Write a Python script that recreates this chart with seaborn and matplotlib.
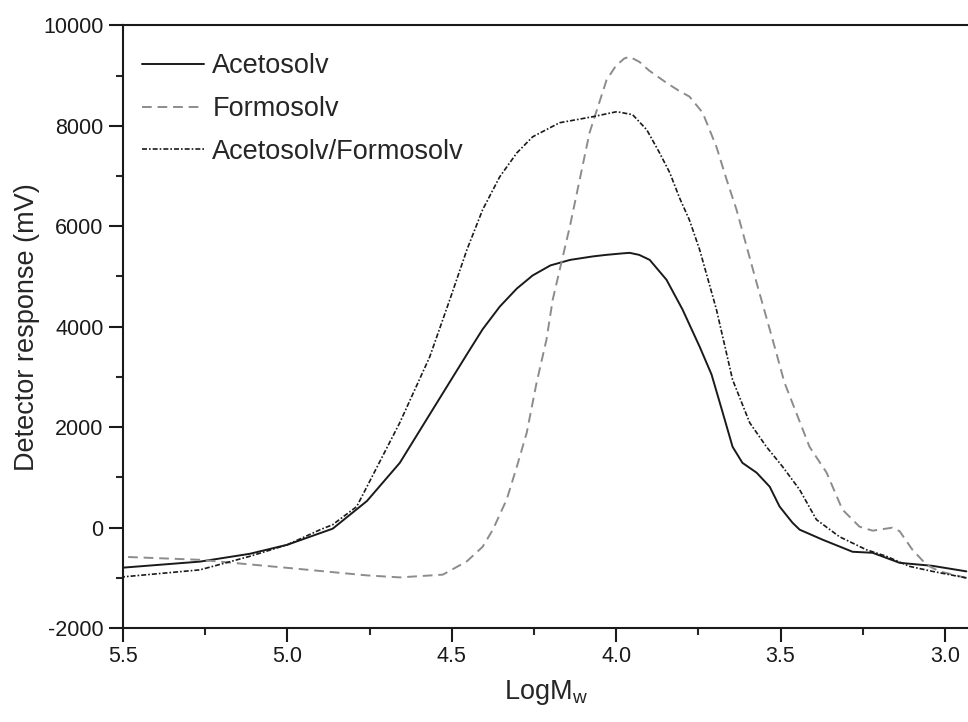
import matplotlib
matplotlib.use("Agg")
import matplotlib.pyplot as plt
import seaborn as sns
from matplotlib.ticker import MultipleLocator, FormatStrFormatter

# values (LogMw, detector response in mV)
aceto_x = [5.5, 5.266, 5.114, 5.0, 4.862, 4.758, 4.658, 4.558, 4.506, 4.454, 4.406,
           4.354, 4.302, 4.254, 4.20, 4.14, 4.07, 4.03, 3.98, 3.959, 3.93, 3.898,
           3.847, 3.798, 3.746, 3.71, 3.676, 3.646, 3.616, 3.573, 3.533, 3.503,
           3.464, 3.442, 3.372, 3.281, 3.220, 3.138, 3.038, 2.935]
aceto_y = [-796, -676, -520, -340, -20, 530, 1290, 2350, 2900, 3450, 3950,
           4400, 4760, 5020, 5220, 5330, 5400, 5430, 5460, 5470, 5430, 5330,
           4935, 4340, 3600, 3050, 2290, 1610, 1290, 1095, 815, 420,
           100, -40, -240, -480, -500, -700, -760, -870]

formo_x = [5.5, 5.266, 5.0, 4.758, 4.658, 4.527, 4.454, 4.406, 4.375, 4.333, 4.302,
           4.272, 4.242, 4.212, 4.193, 4.141, 4.081, 4.029, 4.00, 3.975, 3.959,
           3.929, 3.90, 3.847, 3.81, 3.777, 3.737, 3.695, 3.664, 3.634, 3.573,
           3.524, 3.488, 3.412, 3.360, 3.312, 3.260, 3.220, 3.160, 3.138, 3.099,
           3.056, 3.017, 2.935]
formo_y = [-580, -640, -800, -950, -990, -935, -670, -380, -40, 560, 1215,
           1890, 2885, 3740, 4537, 5990, 7860, 8915, 9200, 9340, 9373,
           9270, 9100, 8855, 8700, 8580, 8260, 7580, 6925, 6330, 4875,
           3740, 2885, 1610, 1095, 360, 20, -60, 0, -70, -440,
           -740, -870, -1000]

mix_x = [5.5, 5.266, 5.114, 5.0, 4.90, 4.862, 4.789, 4.758, 4.658, 4.567, 4.506,
         4.454, 4.406, 4.354, 4.302, 4.254, 4.172, 4.071, 3.998, 3.950, 3.907,
         3.868, 3.837, 3.807, 3.777, 3.746, 3.695, 3.646, 3.594, 3.543, 3.494,
         3.442, 3.391, 3.321, 3.239, 3.178, 3.108, 3.038, 2.935]
mix_y = [-980, -840, -570, -340, -40, 60, 420, 815, 2090, 3400, 4537,
         5530, 6330, 6985, 7460, 7780, 8060, 8180, 8280, 8220, 7920,
         7460, 7065, 6560, 6120, 5530, 4340, 2945, 2090, 1610, 1215,
         755, 160, -180, -440, -570, -770, -870, -1000]

series_names = ["Acetosolv", "Formosolv", "Acetosolv/Formosolv"]

sns.set_style("ticks")
plt.rcParams["font.family"] = ["Liberation Sans", "DejaVu Sans"]
plt.rcParams["axes.unicode_minus"] = False

fig = plt.figure(figsize=(9.68, 7.22), dpi=100)
ax = fig.add_axes([0.127, 0.130, 0.873, 0.835])

sns.lineplot(x=aceto_x, y=aceto_y, ax=ax, color="#1a1a1a", lw=1.4,
             label=series_names[0])
sns.lineplot(x=formo_x, y=formo_y, ax=ax, color="#8c8c8c", lw=1.4,
             linestyle=(0, (5, 3)), label=series_names[1])
sns.lineplot(x=mix_x, y=mix_y, ax=ax, color="#1a1a1a", lw=1.2,
             linestyle=(0, (3, 1.2, 1, 1.2)), label=series_names[2])

ax.set_xlim(5.5, 2.93)
ax.set_ylim(-2000, 10000)
ax.xaxis.set_major_locator(MultipleLocator(0.5))
ax.xaxis.set_minor_locator(MultipleLocator(0.25))
ax.yaxis.set_major_locator(MultipleLocator(2000))
ax.yaxis.set_minor_locator(MultipleLocator(1000))
ax.xaxis.set_major_formatter(FormatStrFormatter("%.1f"))

ax.tick_params(which="major", direction="out", length=10, width=1.5,
               labelsize=15.5, colors="#1a1a1a", pad=4)
ax.tick_params(axis="x", which="major", pad=3)
ax.tick_params(which="minor", direction="out", length=5, width=1.5)
for side in ["left", "bottom", "top"]:
    ax.spines[side].set_linewidth(1.5)
    ax.spines[side].set_color("#1a1a1a")
ax.spines["right"].set_visible(False)

ax.set_xlabel("LogM$_\\mathregular{w}$", fontsize=19.5, labelpad=8)
ax.set_ylabel("Detector response (mV)", fontsize=19.5, labelpad=2)

ax.legend(loc="upper left", bbox_to_anchor=(0.0, 0.985), frameon=False,
          fontsize=19.5, handlelength=2.3, handletextpad=0.3,
          labelspacing=0.62, borderaxespad=0.3)

fig.savefig("out.png", dpi=100)
